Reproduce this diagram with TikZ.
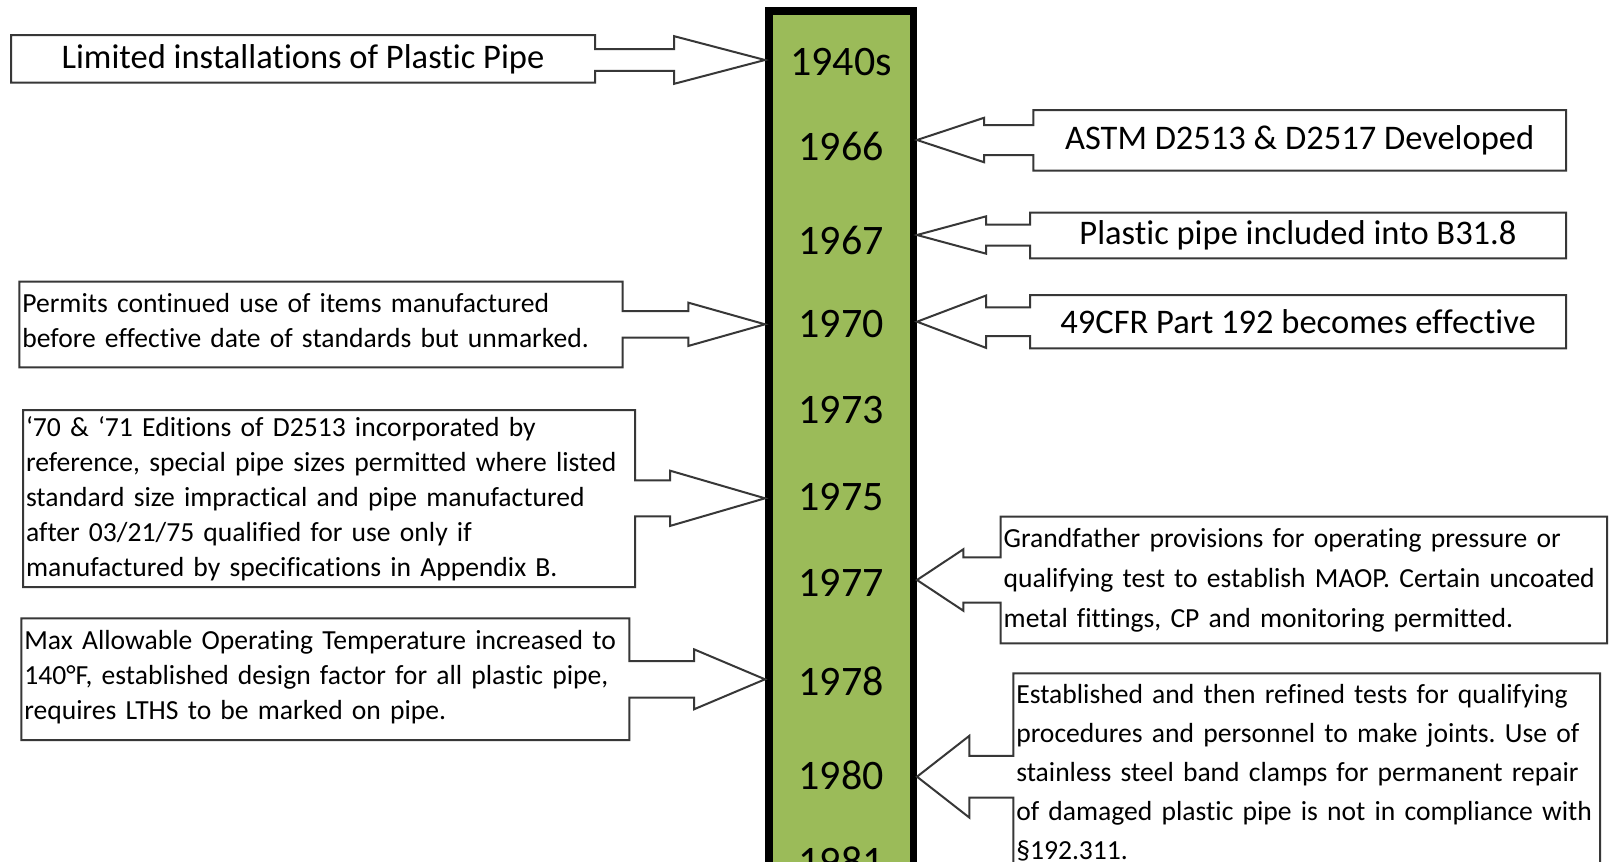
\documentclass[tikz,border=0pt]{standalone}
\usepackage{fontspec}
\setmainfont{Carlito}[Ligatures=NoCommon]
\hyphenpenalty=10000
\exhyphenpenalty=10000
\frenchspacing
\definecolor{bargreen}{RGB}{155,187,89}
\definecolor{outline}{RGB}{55,55,55}

\newcommand{\yearfont}{\fontsize{42}{50}\selectfont}
\newcommand{\titlefont}{\fontsize{34.5}{41}\selectfont}
\newcommand{\notefont}{\fontsize{27.6}{35}\selectfont}
\newcommand{\lift}{\rule[-8pt]{0pt}{8pt}}

\tikzset{
  timebar/.style={draw=black, line width=7.5pt, fill=bargreen, inner sep=0pt},
  yearlbl/.style={font=\yearfont, inner sep=0pt},
  evbox/.style={anchor=north west, inner xsep=3pt, inner ysep=0pt, outer sep=0pt},
  evnote/.style={evbox, font=\notefont, align=left},
  evtitle/.style={evbox, font=\titlefont, align=center},
  callout/.style={draw=outline, line width=2pt, line join=miter},
}

% box, tip y, stem half width, head half height, head base x
\newcommand{\calloutL}[5]{%
  \draw[callout] (#1.north west) -- (#1.north east) -- (#1.east |- 0,#2-#3)
    -- (#5,#2-#3) -- (#5,#2-#4) -- (bar.west |- 0,#2) -- (#5,#2+#4)
    -- (#5,#2+#3) -- (#1.east |- 0,#2+#3) -- (#1.south east)
    -- (#1.south west) -- cycle;}
\newcommand{\calloutR}[5]{%
  \draw[callout] (#1.north east) -- (#1.north west) -- (#1.west |- 0,#2-#3)
    -- (#5,#2-#3) -- (#5,#2-#4) -- (bar.east |- 0,#2) -- (#5,#2+#4)
    -- (#5,#2+#3) -- (#1.west |- 0,#2+#3) -- (#1.south west)
    -- (#1.south east) -- cycle;}

\begin{document}
\begin{tikzpicture}[x=1pt, y=-1pt]
  \clip (0,0) rectangle (1609,862);
  \fill[white] (0,0) rectangle (1609,862);

  \node[timebar, minimum width=144.5pt, minimum height=900pt, anchor=north] (bar) at (841,7) {};
  \node[yearlbl] (y1940) at (841,62) {1940s};
  \node[yearlbl] (y1966) at (841,146) {1966};
  \node[yearlbl] (y1967) at (841,240) {1967};
  \node[yearlbl] (y1970) at (841,324.5) {1970};
  \node[yearlbl] (y1973) at (841,410.5) {1973};
  \node[yearlbl] (y1975) at (841,497) {1975};
  \node[yearlbl] (y1977) at (841,582.5) {1977};
  \node[yearlbl] (y1978) at (841,681.7) {1978};
  \node[yearlbl] (y1980) at (841,775.7) {1980};
  \node[yearlbl] (y1981) at (841,861) {1981};

  % left side
  \node[evtitle, minimum width=584pt, minimum height=47.7pt] (ev1940) at (11,35)
    {Limited installations of Plastic Pipe};
  \node[evnote, text width=597.3pt, minimum height=85.6pt] (ev1970l) at (19.4,281.7)
    {Permits continued use of items manufactured\\
     before effective date of standards but unmarked.\lift};
  \node[evnote, text width=606pt, minimum height=177pt] (ev1975) at (23,410)
    {‘70 \& ‘71 Editions of D2513 incorporated by\\
     reference, special pipe sizes permitted where listed\\
     standard size impractical and pipe manufactured\\
     after 03/21/75 qualified for use only if\\
     manufactured by specifications in Appendix B.};
  \node[evnote, text width=601.9pt, minimum height=121.7pt] (ev1978) at (21.4,618.3)
    {Max Allowable Operating Temperature increased to\\
     140°F, established design factor for all plastic pipe,\\
     requires LTHS to be marked on pipe.\lift};

  % right side
  \node[evtitle, minimum width=532.7pt, minimum height=60.7pt] (ev1966) at (1033.3,110)
    {ASTM D2513 \& D2517 Developed};
  \node[evtitle, minimum width=536pt, minimum height=45.8pt] (ev1967) at (1030,212.5)
    {Plastic pipe included into B31.8};
  \node[evtitle, minimum width=536pt, minimum height=53.3pt] (ev1970r) at (1030,295)
    {49CFR Part 192 becomes effective};
  \node[evnote, font=\fontsize{27.6}{40}\selectfont, text width=600.3pt,
        minimum height=126.6pt] (ev1977) at (1000.7,516.7)
    {Grandfather provisions for operating pressure or\\
     qualifying test to establish MAOP. Certain uncoated\\
     metal fittings, CP and monitoring permitted.};
  \node[evnote, font=\fontsize{27.6}{39}\selectfont, text width=580.7pt,
        minimum height=198.2pt] (ev1980) at (1013.3,673.3)
    {Established and then refined tests for qualifying\\
     procedures and personnel to make joints. Use of\\
     stainless steel band clamps for permanent repair\\
     of damaged plastic pipe is not in compliance with\\
     §192.311.};

  \calloutL{ev1940}{60}{10.85}{23.85}{674}
  \calloutL{ev1970l}{324.3}{13.3}{21.65}{688.3}
  \calloutL{ev1975}{498.3}{18}{27.65}{670}
  \calloutL{ev1978}{679.3}{18.3}{30}{694}
  \calloutR{ev1966}{140}{15}{22.2}{984}
  \calloutR{ev1967}{235}{10.5}{18.65}{986}
  \calloutR{ev1970r}{321.7}{14.35}{26.15}{986}
  \calloutR{ev1977}{580}{22.7}{30.7}{963.3}
  \calloutR{ev1980}{776.7}{20.85}{40.85}{969.3}
\end{tikzpicture}
\end{document}
